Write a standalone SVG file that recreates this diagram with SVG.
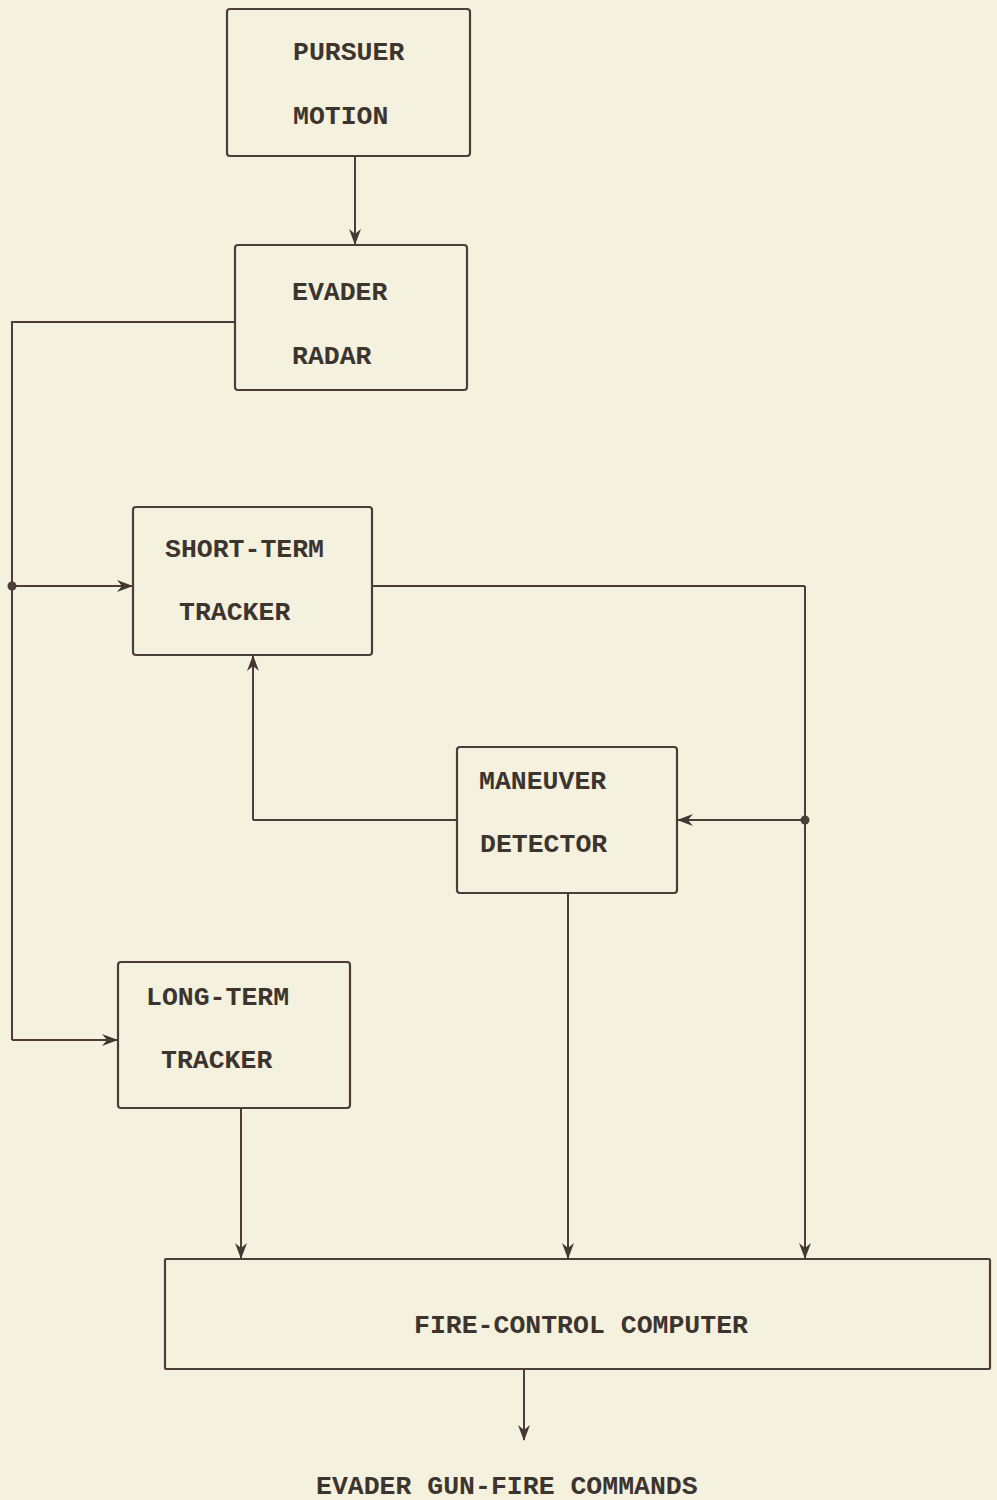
<svg xmlns="http://www.w3.org/2000/svg" width="997" height="1500" viewBox="0 0 997 1500">
<defs>
<marker id="ah" viewBox="0 0 16 12" refX="15" refY="6" markerWidth="16" markerHeight="12" markerUnits="userSpaceOnUse" orient="auto">
<path d="M0,0 L16,6 L0,12 L5,6 Z" fill="#433832"/>
</marker>
<style>
.box{fill:none;stroke:#4a3f38;stroke-width:2.2}
.ln{fill:none;stroke:#4a3f38;stroke-width:2}
.arr{fill:none;stroke:#4a3f38;stroke-width:2;marker-end:url(#ah)}
.t{font-family:"Liberation Mono","DejaVu Sans Mono",monospace;font-size:26.5px;font-weight:bold;fill:#3e342e}
.dot{fill:#4a3f38}
</style>
</defs>
<rect width="997" height="1500" fill="#f4f2de"/>
<g id="connectors">
<path class="arr" d="M355,156 L355,244"/>
<path class="ln" d="M235,322 L12,322 L12,1040"/>
<path class="arr" d="M12,1040 L117,1040"/>
<path class="arr" d="M12,586 L132,586"/>
<circle class="dot" cx="12" cy="586" r="4.5"/>
<path class="ln" d="M372,586 L805,586"/>
<path class="arr" d="M805,586 L805,1258"/>
<path class="arr" d="M805,820 L678,820"/>
<circle class="dot" cx="805" cy="820" r="4.5"/>
<path class="ln" d="M457,820 L253,820"/>
<path class="arr" d="M253,820 L253,656"/>
<path class="arr" d="M568,893 L568,1258"/>
<path class="arr" d="M241,1108 L241,1258"/>
<path class="arr" d="M524,1369 L524,1440"/>
</g>
<g id="pursuer-motion">
<rect class="box" x="227" y="9" width="243" height="147" rx="3"/>
<text class="t" x="293" y="60">PURSUER</text>
<text class="t" x="293" y="124">MOTION</text>
</g>
<g id="evader-radar">
<rect class="box" x="235" y="245" width="232" height="145" rx="3"/>
<text class="t" x="292" y="300">EVADER</text>
<text class="t" x="292" y="364">RADAR</text>
</g>
<g id="short-term-tracker">
<rect class="box" x="133" y="507" width="239" height="148" rx="3"/>
<text class="t" x="165" y="557">SHORT-TERM</text>
<text class="t" x="179" y="620">TRACKER</text>
</g>
<g id="maneuver-detector">
<rect class="box" x="457" y="747" width="220" height="146" rx="3"/>
<text class="t" x="479" y="789">MANEUVER</text>
<text class="t" x="480" y="852">DETECTOR</text>
</g>
<g id="long-term-tracker">
<rect class="box" x="118" y="962" width="232" height="146" rx="3"/>
<text class="t" x="146" y="1005">LONG-TERM</text>
<text class="t" x="161" y="1068">TRACKER</text>
</g>
<g id="fire-control-computer">
<rect class="box" x="165" y="1259" width="825" height="110" rx="1"/>
<text class="t" x="414" y="1333">FIRE-CONTROL COMPUTER</text>
</g>
<g id="output-label">
<text class="t" x="316" y="1494">EVADER GUN-FIRE COMMANDS</text>
</g>
</svg>
